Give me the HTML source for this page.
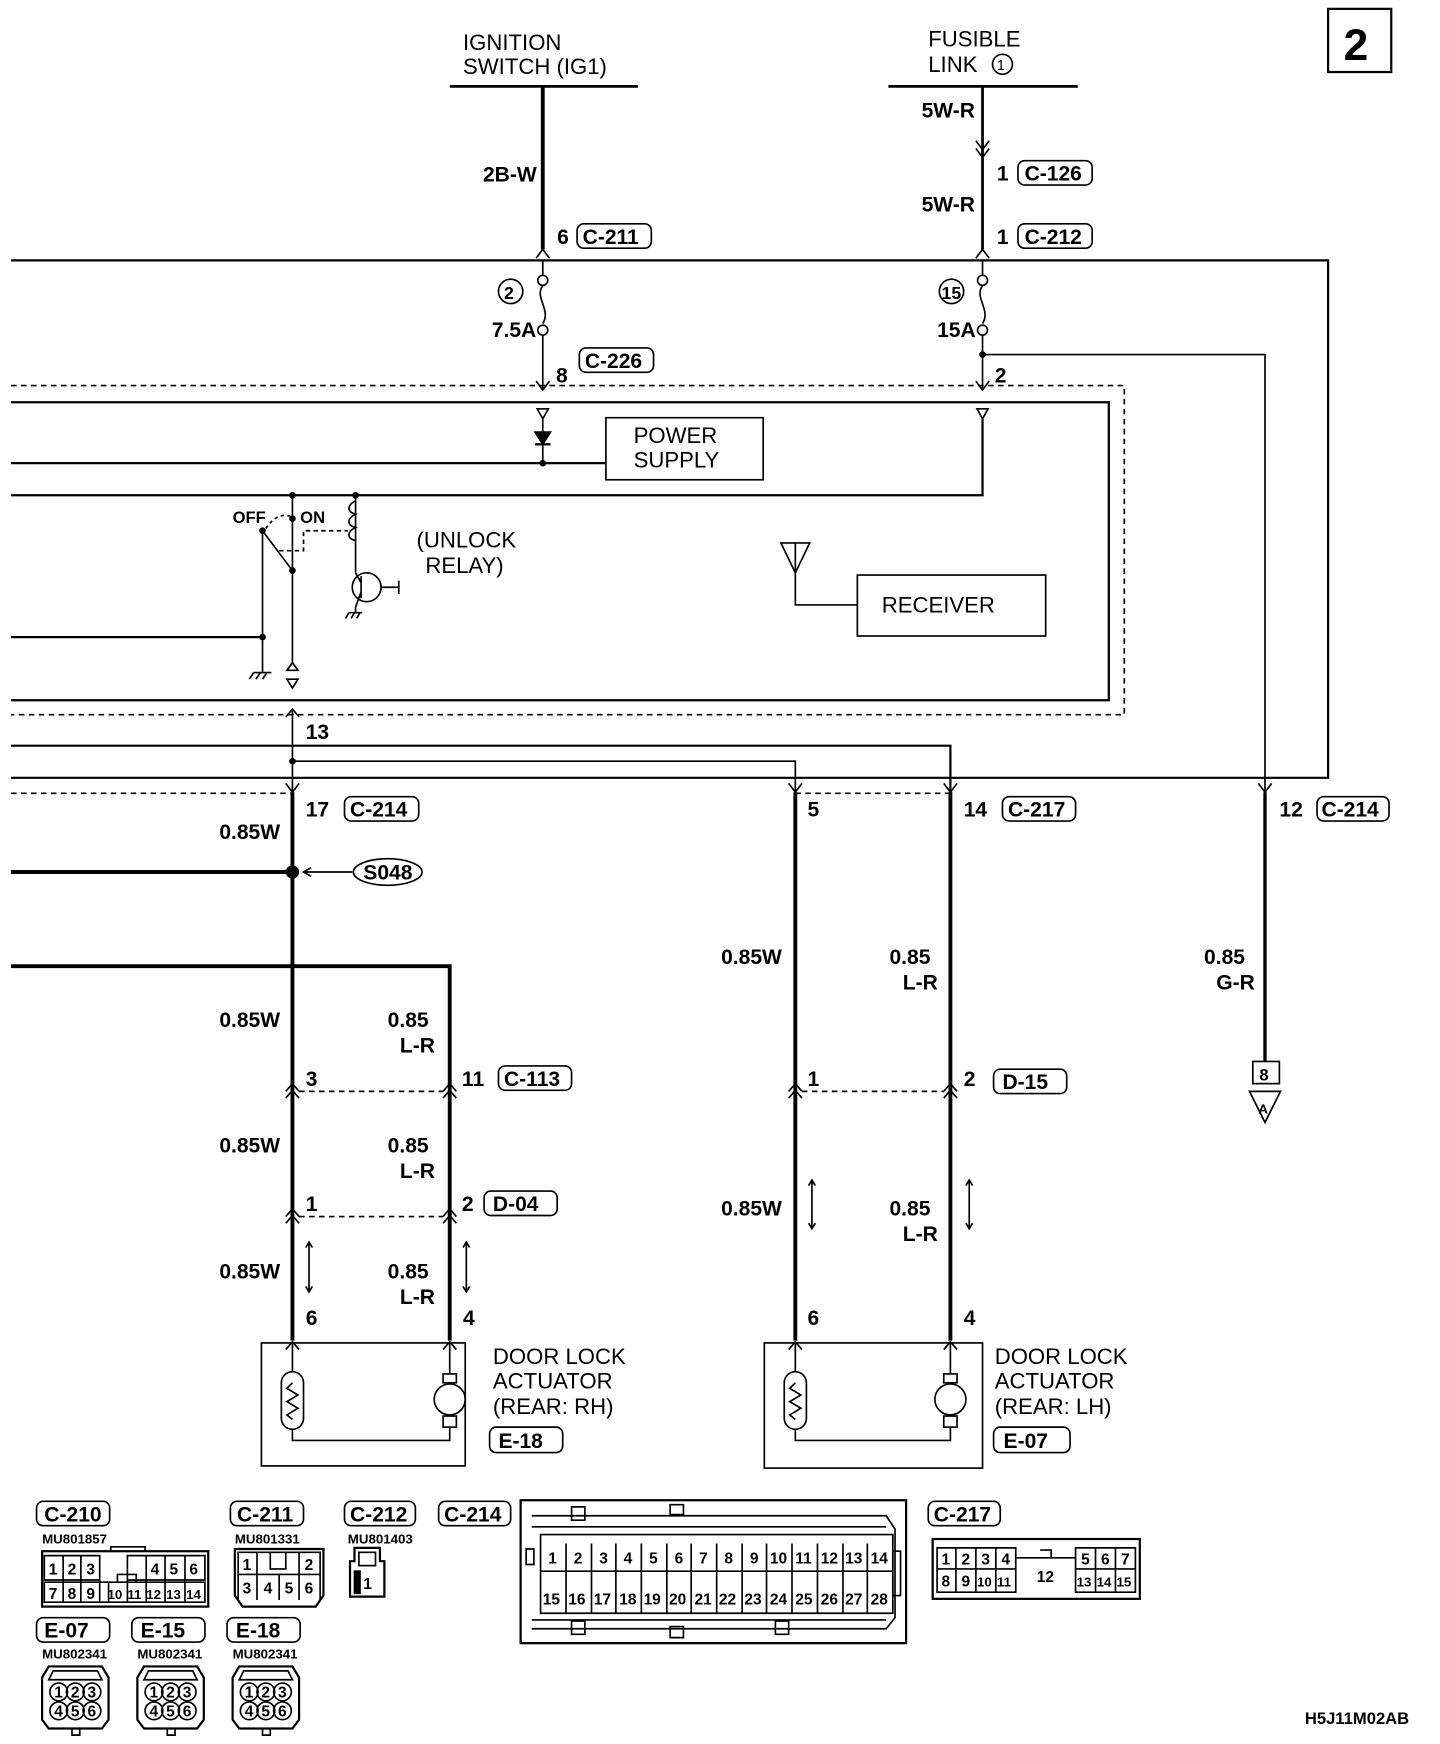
<!DOCTYPE html>
<html><head><meta charset="utf-8"><style>
html,body{margin:0;padding:0;background:#fff;}
svg{display:block;}
text{font-family:"Liberation Sans Narrow","Liberation Sans",sans-serif;fill:#000;}
.b{font-weight:bold;font-size:19px;}
.n{font-size:20px;font-family:"Liberation Sans",sans-serif;}
.s{font-weight:bold;font-size:12px;}
.c{font-weight:bold;font-size:14px;}
</style></head><body>
<svg width="1440" height="1744" viewBox="0 0 1300 1574" preserveAspectRatio="none" xmlns="http://www.w3.org/2000/svg">
<g fill="none" stroke="#000" stroke-width="1.5">
<!-- page number -->
<rect x="1199" y="8" width="57" height="57" stroke-width="2"/>
<!-- top bars -->
<line x1="406" y1="78" x2="576" y2="78" stroke-width="2.5"/>
<line x1="802" y1="78" x2="973" y2="78" stroke-width="2.5"/>
<line x1="490" y1="78" x2="490" y2="225" stroke-width="3.5"/>
<line x1="887" y1="78" x2="887" y2="225" stroke-width="2.5"/>
<path d="M881,127 L887,135 L893,127 M881,134 L887,142 L893,134"/>
<circle cx="905" cy="58" r="9"/>
<!-- outer loop -->
<path d="M10,235 H1199 V702 H10" stroke-width="2"/>
<path d="M484,233 L490,225 L496,233 M881,233 L887,225 L893,233"/>
<!-- fuses -->
<line x1="490" y1="235" x2="490" y2="248"/>
<circle cx="490" cy="253" r="4.5"/>
<path d="M490,258 C482,268 498,280 490,292"/>
<circle cx="490" cy="298" r="4.5"/>
<line x1="490" y1="303" x2="490" y2="352"/>
<path d="M484,344 L490,352 L496,344"/>
<circle cx="461" cy="263" r="11"/>
<line x1="887" y1="235" x2="887" y2="248"/>
<circle cx="887" cy="253" r="4.5"/>
<path d="M887,258 C879,268 895,280 887,292"/>
<circle cx="887" cy="298" r="4.5"/>
<line x1="887" y1="303" x2="887" y2="352"/>
<path d="M881,344 L887,352 L893,344"/>
<circle cx="859" cy="263" r="11"/>
<path d="M887,320 H1142 V715"/>
<path d="M1136,707 L1142,715 L1148,707"/>
<!-- dashed and solid boxes -->
<path d="M10,348 H1015 V645 H10" stroke-dasharray="5,4"/>
<path d="M10,363 H1001 V632 H10" stroke-width="2"/>
<!-- power supply -->
<path d="M485,369 L495,369 L490,378 Z"/>
<line x1="490" y1="378" x2="490" y2="418"/>
<path d="M483,390 L497,390 L490,401 Z" fill="#000"/>
<line x1="483" y1="401" x2="497" y2="401" stroke-width="2"/>
<line x1="10" y1="418" x2="547" y2="418" stroke-width="2"/>
<rect x="547" y="377" width="142" height="56"/>
<path d="M882,369 L892,369 L887,378 Z"/>
<path d="M887,378 V447 H10" stroke-width="2"/>
<!-- switch -->
<line x1="264" y1="447" x2="264" y2="598"/>
<line x1="321" y1="447" x2="321" y2="495"/>
<path d="M321,452 c-8,4 -8,10 0,12 c-8,4 -8,10 0,12 c-8,4 -8,10 0,12" />
<line x1="237" y1="479" x2="264" y2="515"/>
<path d="M240,477 Q250,462 262,466" stroke-dasharray="3,3"/>
<path d="M252,497 H274 V479 H314" stroke-dasharray="4,3"/>
<line x1="237" y1="479" x2="237" y2="607"/>
<path d="M229,607 H245 M229,607 l-4,6 M235,607 l-4,6 M241,607 l-4,6"/>
<line x1="10" y1="575" x2="237" y2="575" stroke-width="2"/>
<path d="M259,605 L264,598 L269,605 Z M259,613 L269,613 L264,621 Z"/>
<line x1="321" y1="495" x2="321" y2="517"/>
<circle cx="331" cy="530" r="13"/>
<path d="M326,520 V540 M326,526 L321,517 M326,534 L321,548 M344,530 H360 M360,524 V536"/>
<line x1="321" y1="548" x2="321" y2="553"/>
<path d="M315,553 H327 M315,553 l-3,5 M320,553 l-3,5 M325,553 l-3,5"/>
<!-- antenna receiver -->
<path d="M705,490 L731,490 L718,517 Z"/>
<path d="M718,490 V546 H774"/>
<rect x="774" y="519" width="170" height="55"/>
<!-- below module -->
<path d="M258,647 L264,640 L270,647"/>
<line x1="264" y1="640" x2="264" y2="715"/>
<path d="M264,687 H718 V715"/>
<path d="M10,673 H858 V715" stroke-width="2"/>
<path d="M10,716 H264 M718,716 H858" stroke-dasharray="5,4"/>
<path d="M258,707 L264,715 L270,707 M712,707 L718,715 L724,707 M852,707 L858,715 L864,707"/>
<!-- RH wires -->
<line x1="264" y1="715" x2="264" y2="1210" stroke-width="3.5"/>
<line x1="10" y1="787" x2="264" y2="787" stroke-width="3.5"/>
<line x1="318" y1="787" x2="274" y2="787"/>
<path d="M281,783 L274,787 L281,791"/>
<ellipse cx="350" cy="787" rx="31" ry="12"/>
<path d="M10,872 H406 V1210" stroke-width="3.5"/>
<path d="M258,985 L264,978 L270,985 M258,991 L264,984 L270,991 M400,985 L406,978 L412,985 M400,991 L406,984 L412,991"/>
<line x1="270" y1="985" x2="400" y2="985" stroke-dasharray="5,4"/>
<path d="M258,1098 L264,1091 L270,1098 M258,1104 L264,1097 L270,1104 M400,1098 L406,1091 L412,1098 M400,1104 L406,1097 L412,1104"/>
<line x1="270" y1="1098" x2="400" y2="1098" stroke-dasharray="5,4"/>
<path d="M279,1122 V1165 M276,1126 L279,1121 L282,1126 M276,1161 L279,1166 L282,1161 M421,1122 V1165 M418,1126 L421,1121 L424,1126 M418,1161 L421,1166 L424,1161"/>
<path d="M258,1218 L264,1211 L270,1218 M400,1218 L406,1211 L412,1218"/>
<rect x="236" y="1212" width="184" height="111"/>
<path d="M264,1212 V1238 M406,1212 V1240"/>
<rect x="254" y="1238" width="20" height="52" rx="10"/>
<path d="M264,1248 l-5,5 l10,6 l-10,6 l10,6 l-10,6 l5,4"/>
<rect x="400" y="1240" width="12" height="8"/>
<circle cx="406" cy="1263" r="14"/>
<rect x="400" y="1278" width="12" height="10"/>
<path d="M264,1290 V1300 H406 V1288"/>
<!-- LH wires -->
<line x1="718" y1="715" x2="718" y2="1210" stroke-width="3.5"/>
<line x1="858" y1="715" x2="858" y2="1210" stroke-width="3.5"/>
<path d="M712,985 L718,978 L724,985 M712,991 L718,984 L724,991 M852,985 L858,978 L864,985 M852,991 L858,984 L864,991"/>
<line x1="724" y1="985" x2="852" y2="985" stroke-dasharray="5,4"/>
<path d="M733,1066 V1108 M730,1070 L733,1065 L736,1070 M730,1104 L733,1109 L736,1104 M875,1066 V1108 M872,1070 L875,1065 L878,1070 M872,1104 L875,1109 L878,1104"/>
<path d="M712,1218 L718,1211 L724,1218 M852,1218 L858,1211 L864,1218"/>
<rect x="690" y="1212" width="197" height="113"/>
<path d="M718,1212 V1238 M858,1212 V1240"/>
<rect x="708" y="1238" width="20" height="52" rx="10"/>
<path d="M718,1248 l-5,5 l10,6 l-10,6 l10,6 l-10,6 l5,4"/>
<rect x="852" y="1240" width="12" height="8"/>
<circle cx="858" cy="1263" r="14"/>
<rect x="852" y="1278" width="12" height="10"/>
<path d="M718,1290 V1300 H858 V1288"/>
<!-- G-R -->
<line x1="1142" y1="715" x2="1142" y2="958" stroke-width="3"/>
<rect x="1131" y="958" width="24" height="20"/>
<path d="M1128,985 L1156,985 L1142,1013 Z"/>
<!-- label boxes -->
<rect x="521" y="202" width="67" height="22" rx="6"/>
<rect x="919" y="145" width="67" height="22" rx="6"/>
<rect x="919" y="202" width="67" height="22" rx="6"/>
<rect x="523" y="314" width="67" height="22" rx="6"/>
<rect x="311" y="719" width="67" height="22" rx="6"/>
<rect x="905" y="719" width="66" height="22" rx="6"/>
<rect x="1189" y="719" width="65" height="22" rx="6"/>
<rect x="450" y="962" width="66" height="22" rx="6"/>
<rect x="437" y="1075" width="66" height="22" rx="6"/>
<rect x="897" y="965" width="66" height="22" rx="6"/>
<rect x="442" y="1288" width="66" height="23" rx="6"/>
<rect x="897" y="1288" width="69" height="23" rx="6"/>
<!-- bottom connector labels -->
<rect x="33" y="1355" width="66" height="22" rx="6"/>
<rect x="208" y="1355" width="66" height="22" rx="6"/>
<rect x="311" y="1355" width="64" height="22" rx="6"/>
<rect x="396" y="1355" width="65" height="22" rx="6"/>
<rect x="838" y="1355" width="65" height="22" rx="6"/>
<rect x="33" y="1460" width="66" height="22" rx="6"/>
<rect x="119" y="1460" width="66" height="22" rx="6"/>
<rect x="205" y="1460" width="66" height="22" rx="6"/>
<!-- C-210 -->
<rect x="38" y="1400" width="150" height="50" stroke-width="2"/>
<path d="M40,1404 H90 V1426 H40 Z M115,1404 H185 V1426 H115 Z M40,1428 H185 V1446 H40 Z M57,1404 V1446 M73,1404 V1446 M90,1426 V1446 M98,1428 V1446 M115,1426 V1446 M132,1404 V1446 M149,1404 V1446 M167,1404 V1446 M100,1400 V1396 H131 V1400 M106,1428 V1421 H123 V1428"/>
<!-- C-211 -->
<path d="M212,1398 H292 V1440 L285,1450 H219 L212,1440 Z" stroke-width="2"/>
<path d="M215,1401 H289 V1421 H215 Z M215,1421 V1444 M289,1421 V1444 M232,1401 V1444 M252,1421 V1444 M270,1401 V1444 M244,1401 V1416 H258 V1401"/>
<!-- C-212 -->
<path d="M320,1397 H343 V1409 H347 V1441 H316 V1409 H320 Z" stroke-width="2"/>
<rect x="324" y="1401" width="15" height="12"/>
<rect x="320" y="1418" width="5" height="20" fill="#000"/>
<!-- C-214 -->
<rect x="470" y="1354" width="348" height="129" stroke-width="2"/>
<path d="M480,1368 H800 L808,1380 V1460 L800,1470 H480 M480,1378 H800 M480,1462 H800 M488,1385 H806 V1456 H488 Z M488,1418 H806"/>
<path d="M511,1393 V1456 M534,1393 V1456 M556,1393 V1456 M579,1393 V1456 M602,1393 V1456 M624,1393 V1456 M647,1393 V1456 M670,1393 V1456 M692,1393 V1456 M715,1393 V1456 M738,1393 V1456 M761,1393 V1456 M783,1393 V1456"/>
<path d="M605,1358 H617 V1367 H605 Z M605,1468 H617 V1478 H605 Z M516,1360 H528 V1372 H516 Z M516,1463 H528 V1475 H516 Z M700,1463 H712 V1475 H700 Z M475,1398 H482 V1412 H475 Z M806,1400 H813 V1440 H806 Z"/>
<!-- C-217 -->
<rect x="842" y="1389" width="187" height="54" stroke-width="2"/>
<path d="M846,1397 H917 V1437 H846 Z M846,1416 H917 M863,1397 V1437 M881,1397 V1437 M899,1397 V1437 M971,1397 H1025 V1437 H971 Z M971,1416 H1025 M989,1397 V1437 M1007,1397 V1437 M917,1406 H971 M939,1399 H949 V1406"/>
<!-- E connectors -->
<g id="e1">
<path d="M44,1504 H92 L98,1514 V1552 L92,1560 H44 L38,1552 V1514 Z" stroke-width="2"/>
<path d="M48,1508 H88 L92,1516 H44 Z M65,1560 V1566 H72 V1560"/>
<circle cx="53" cy="1527" r="8"/><circle cx="68" cy="1527" r="8"/><circle cx="83" cy="1527" r="8"/>
<circle cx="53" cy="1544" r="8"/><circle cx="68" cy="1544" r="8"/><circle cx="83" cy="1544" r="8"/>
</g>
<use href="#e1" x="86"/>
<use href="#e1" x="172"/>
</g>
<!-- dots -->
<g fill="#000">
<circle cx="887" cy="320" r="3"/>
<circle cx="490" cy="418" r="3"/>
<circle cx="264" cy="447" r="3"/>
<circle cx="321" cy="447" r="3"/>
<circle cx="264" cy="468" r="3"/>
<circle cx="237" cy="479" r="3"/>
<circle cx="264" cy="515" r="3"/>
<circle cx="237" cy="575" r="3"/>
<circle cx="264" cy="687" r="3"/>
<circle cx="264" cy="787" r="6"/>
</g>
<!-- texts -->
<text x="1213" y="54" style="font-weight:bold;font-size:40px">2</text>
<text class="n" x="418" y="45">IGNITION</text>
<text class="n" x="418" y="67">SWITCH (IG1)</text>
<text class="n" x="838" y="42">FUSIBLE</text>
<text class="n" x="838" y="65">LINK</text>
<text x="900" y="63" style="font-size:13px">1</text>
<text class="b" x="436" y="164">2B-W</text>
<text class="b" x="503" y="220">6</text><text class="b" x="526" y="220">C-211</text>
<text class="b" x="832" y="106">5W-R</text>
<text class="b" x="900" y="163">1</text><text class="b" x="925" y="163">C-126</text>
<text class="b" x="832" y="191">5W-R</text>
<text class="b" x="900" y="220">1</text><text class="b" x="925" y="220">C-212</text>
<text class="b" x="455" y="270" style="font-size:16px">2</text>
<text class="b" x="444" y="304">7.5A</text>
<text class="b" x="850" y="270" style="font-size:16px">15</text>
<text class="b" x="846" y="304">15A</text>
<text class="b" x="502" y="345">8</text><text class="b" x="528" y="332">C-226</text>
<text class="b" x="898" y="345">2</text>
<text class="n" x="572" y="400">POWER</text>
<text class="n" x="572" y="422">SUPPLY</text>
<text class="s" x="210" y="472" style="font-size:15px">OFF</text>
<text class="s" x="271" y="472" style="font-size:15px">ON</text>
<text class="n" x="376" y="494">(UNLOCK</text>
<text class="n" x="384" y="517">RELAY)</text>
<text class="n" x="796" y="553">RECEIVER</text>
<text class="b" x="276" y="667">13</text>
<text class="b" x="276" y="737">17</text><text class="b" x="316" y="737">C-214</text>
<text class="b" x="729" y="737">5</text>
<text class="b" x="870" y="737">14</text><text class="b" x="910" y="737">C-217</text>
<text class="b" x="1155" y="737">12</text><text class="b" x="1193" y="737">C-214</text>
<text class="b" x="198" y="757">0.85W</text>
<text class="b" x="328" y="794">S048</text>
<text class="b" x="198" y="927">0.85W</text>
<text class="b" x="350" y="927">0.85</text><text class="b" x="361" y="950">L-R</text>
<text class="b" x="276" y="980">3</text>
<text class="b" x="417" y="980">11</text><text class="b" x="455" y="980">C-113</text>
<text class="b" x="198" y="1040">0.85W</text>
<text class="b" x="350" y="1040">0.85</text><text class="b" x="361" y="1063">L-R</text>
<text class="b" x="276" y="1093">1</text>
<text class="b" x="417" y="1093">2</text><text class="b" x="445" y="1093">D-04</text>
<text class="b" x="198" y="1154">0.85W</text>
<text class="b" x="350" y="1154">0.85</text><text class="b" x="361" y="1177">L-R</text>
<text class="b" x="276" y="1196">6</text>
<text class="b" x="418" y="1196">4</text>
<text class="n" x="445" y="1231">DOOR LOCK</text>
<text class="n" x="445" y="1253">ACTUATOR</text>
<text class="n" x="445" y="1276">(REAR: RH)</text>
<text class="b" x="450" y="1307">E-18</text>
<text class="b" x="651" y="870">0.85W</text>
<text class="b" x="803" y="870">0.85</text><text class="b" x="815" y="893">L-R</text>
<text class="b" x="729" y="980">1</text>
<text class="b" x="870" y="980">2</text><text class="b" x="905" y="983">D-15</text>
<text class="b" x="651" y="1097">0.85W</text>
<text class="b" x="803" y="1097">0.85</text><text class="b" x="815" y="1120">L-R</text>
<text class="b" x="729" y="1196">6</text>
<text class="b" x="870" y="1196">4</text>
<text class="n" x="898" y="1231">DOOR LOCK</text>
<text class="n" x="898" y="1253">ACTUATOR</text>
<text class="n" x="898" y="1276">(REAR: LH)</text>
<text class="b" x="906" y="1307">E-07</text>
<text class="b" x="1087" y="870">0.85</text><text class="b" x="1098" y="893">G-R</text>
<text class="b" x="1137" y="975" style="font-size:15px">8</text>
<text x="1136" y="1005" style="font-size:12px;font-weight:bold">A</text>
<text class="b" x="40" y="1373">C-210</text>
<text class="b" x="214" y="1373">C-211</text>
<text class="b" x="316" y="1373">C-212</text>
<text class="b" x="401" y="1373">C-214</text>
<text class="b" x="843" y="1373">C-217</text>
<text class="b" x="40" y="1478">E-07</text>
<text class="b" x="127" y="1478">E-15</text>
<text class="b" x="213" y="1478">E-18</text>
<text class="s" x="38" y="1393">MU801857</text>
<text class="s" x="212" y="1393">MU801331</text>
<text class="s" x="314" y="1393">MU801403</text>
<text class="s" x="38" y="1497">MU802341</text>
<text class="s" x="124" y="1497">MU802341</text>
<text class="s" x="210" y="1497">MU802341</text>
<g class="c">
<text class="c" x="44" y="1421">1</text><text class="c" x="61" y="1421">2</text><text class="c" x="78" y="1421">3</text>
<text class="c" x="136" y="1421">4</text><text class="c" x="153" y="1421">5</text><text class="c" x="171" y="1421">6</text>
<text class="c" x="44" y="1443">7</text><text class="c" x="61" y="1443">8</text><text class="c" x="78" y="1443">9</text>
<text class="c" x="97" y="1443" style="font-size:12px">10</text><text class="c" x="115" y="1443" style="font-size:12px">11</text>
<text class="c" x="132" y="1443" style="font-size:12px">12</text><text class="c" x="150" y="1443" style="font-size:12px">13</text><text class="c" x="168" y="1443" style="font-size:12px">14</text>
<text class="c" x="219" y="1417">1</text><text class="c" x="275" y="1417">2</text>
<text class="c" x="219" y="1438">3</text><text class="c" x="238" y="1438">4</text><text class="c" x="257" y="1438">5</text><text class="c" x="275" y="1438">6</text>
<text class="c" x="328" y="1434">1</text>
<text class="c" x="495" y="1411">1</text><text class="c" x="518" y="1411">2</text><text class="c" x="541" y="1411">3</text><text class="c" x="563" y="1411">4</text><text class="c" x="586" y="1411">5</text><text class="c" x="609" y="1411">6</text><text class="c" x="631" y="1411">7</text><text class="c" x="654" y="1411">8</text><text class="c" x="677" y="1411">9</text><text class="c" x="695" y="1411">10</text><text class="c" x="718" y="1411">11</text><text class="c" x="741" y="1411">12</text><text class="c" x="763" y="1411">13</text><text class="c" x="786" y="1411">14</text>
<text class="c" x="490" y="1448">15</text><text class="c" x="513" y="1448">16</text><text class="c" x="536" y="1448">17</text><text class="c" x="559" y="1448">18</text><text class="c" x="581" y="1448">19</text><text class="c" x="604" y="1448">20</text><text class="c" x="627" y="1448">21</text><text class="c" x="649" y="1448">22</text><text class="c" x="672" y="1448">23</text><text class="c" x="695" y="1448">24</text><text class="c" x="718" y="1448">25</text><text class="c" x="741" y="1448">26</text><text class="c" x="763" y="1448">27</text><text class="c" x="786" y="1448">28</text>
<text class="c" x="850" y="1412">1</text><text class="c" x="868" y="1412">2</text><text class="c" x="886" y="1412">3</text><text class="c" x="904" y="1412">4</text>
<text class="c" x="850" y="1432">8</text><text class="c" x="868" y="1432">9</text><text class="c" x="882" y="1432" style="font-size:12px">10</text><text class="c" x="900" y="1432" style="font-size:12px">11</text>
<text class="c" x="936" y="1428">12</text>
<text class="c" x="976" y="1412">5</text><text class="c" x="994" y="1412">6</text><text class="c" x="1012" y="1412">7</text>
<text class="c" x="972" y="1432" style="font-size:12px">13</text><text class="c" x="990" y="1432" style="font-size:12px">14</text><text class="c" x="1008" y="1432" style="font-size:12px">15</text>
<text class="c" x="49" y="1532">1</text><text class="c" x="64" y="1532">2</text><text class="c" x="79" y="1532">3</text>
<text class="c" x="49" y="1549">4</text><text class="c" x="64" y="1549">5</text><text class="c" x="79" y="1549">6</text>
<text class="c" x="135" y="1532">1</text><text class="c" x="150" y="1532">2</text><text class="c" x="165" y="1532">3</text>
<text class="c" x="135" y="1549">4</text><text class="c" x="150" y="1549">5</text><text class="c" x="165" y="1549">6</text>
<text class="c" x="221" y="1532">1</text><text class="c" x="236" y="1532">2</text><text class="c" x="251" y="1532">3</text>
<text class="c" x="221" y="1549">4</text><text class="c" x="236" y="1549">5</text><text class="c" x="251" y="1549">6</text>
</g>
<text class="b" x="1178" y="1556" style="font-size:15px">H5J11M02AB</text>
</svg>
</body></html>
